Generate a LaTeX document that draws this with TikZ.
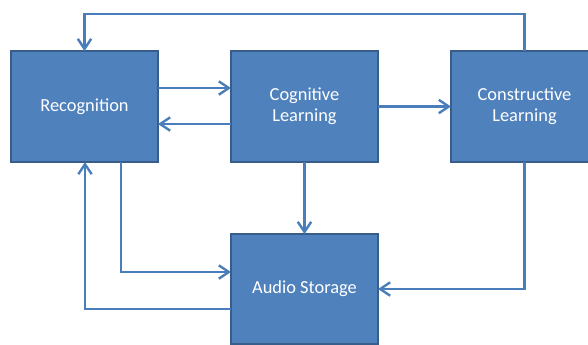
\documentclass[tikz,border=0pt]{standalone}
\usepackage{fontspec}
\setmainfont{Carlito}
\usetikzlibrary{arrows.meta}
\definecolor{boxfill}{HTML}{4F81BD}
\definecolor{boxline}{HTML}{385D8A}
\definecolor{flow}{HTML}{4A7EBB}
\tikzset{
  block/.style={draw=boxline, line width=1.1pt, fill=boxfill, text=white,
    font=\fontsize{13.8}{15.8}\selectfont, align=center,
    minimum width=110.25pt, minimum height=83.25pt, inner sep=0pt, outer sep=0pt},
  flowarrow/.style={draw=flow, line width=1.8pt,
    -{Straight Barb[length=7.5pt,width=10pt,line width=1.8pt]}}
}
\begin{document}
\begin{tikzpicture}[x=0.75pt,y=-0.75pt]
	\useasboundingbox (0,0) rectangle (588,344);
	\clip (0,0) rectangle (588,344);
	%blocks
	\node[block] (rec) at (84.5,106.5) {Recognition};
	\node[block] (cog) at (304.5,106.5) {Cognitive\\Learning};
	\node[block] (con) at (524.5,106.5) {Constructive\\Learning};
	\node[block, minimum height=82.5pt] (aud) at (304.5,289) {Audio Storage};
	%links
	\draw[flowarrow] (con.north) -- (con.north |- 0,14) -| (rec.north);
	\draw[flowarrow] (rec.east |- 0,88) -- (cog.west |- 0,88);
	\draw[flowarrow] (cog.west |- 0,124) -- (rec.east |- 0,124);
	\draw[flowarrow] (cog.east) -- (con.west);
	\draw[flowarrow] (cog.south) -- (aud.north);
	\draw[flowarrow] (rec.south -| 121,0) |- (aud.west |- 0,272);
	\draw[flowarrow] (aud.west |- 0,309) -| (rec.south -| 85,0);
	\draw[flowarrow] (con.south) |- (aud.east);
\end{tikzpicture}
\end{document}
